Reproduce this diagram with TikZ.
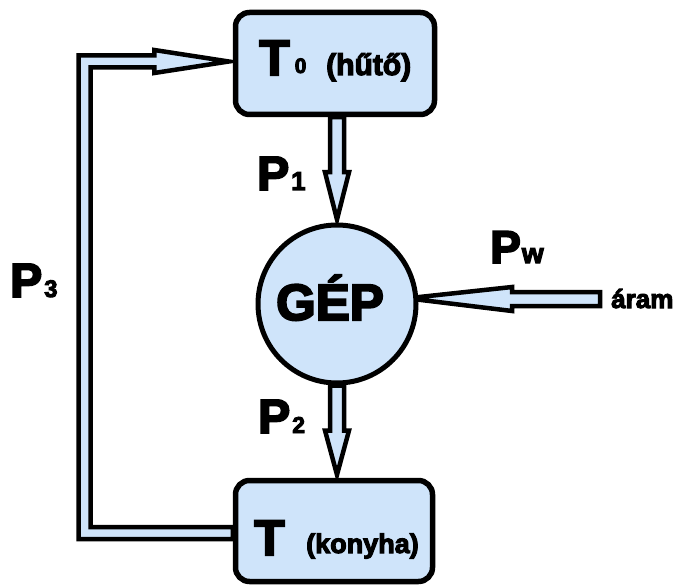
\documentclass[tikz,border=0pt]{standalone}
\usepackage{fontspec}
\setmainfont{Liberation Sans}[BoldFeatures={FakeBold=4}]
\usetikzlibrary{positioning, calc, backgrounds}
\definecolor{boxblue}{HTML}{CFE4FA}

\begin{document}
\begin{tikzpicture}[
    x=1pt, y=-1pt,
    every node/.style={inner sep=0pt},
    unit/.style={draw, line width=5.5pt, rounded corners=14pt, fill=boxblue,
                 minimum width=#1, minimum height=102pt},
    machine/.style={draw, circle, line width=5pt, fill=boxblue, minimum size=158pt},
    flow/.style={draw, line width=4.5pt, fill=boxblue, line join=miter},
    big/.style={anchor=base west, font=\bfseries\fontsize{#1}{#1}\selectfont},
  ]
  \useasboundingbox (0,0) rectangle (680,588);

  \node[unit=199pt] (cold) at (335,63.5) {};
  \node[unit=197pt, minimum height=101pt] (kitchen) at (334,531) {};
  \node[machine] (gep) at (337,304) {};

  % texts
  \node[big=50] (coldT) at (259,75) {T\hspace{5pt}\raisebox{2pt}{\fontsize{21}{21}\selectfont 0}};
  \node[big=30] (coldname) at (326,75) {(hűtő)};
  \node[big=50] (kitchenT) at (254,555) {T};
  \node[big=27] (kitchenname) at (306,553) {(konyha)};
  \node[big=51, anchor=base] (gepname) at (330,320) {GÉP};
  \node[big=48] (p1) at (257,190) {P\hspace{2pt}{\fontsize{26}{26}\selectfont 1}};
  \node[big=48] (p2) at (258,433) {P\hspace{2pt}{\fontsize{23}{23}\selectfont 2}};
  \node[big=48] (p3) at (10,297) {P\hspace{2pt}{\fontsize{24}{24}\selectfont 3}};
  \node[big=46] (pw) at (490,263) {P\hspace{1pt}{\fontsize{28}{28}\selectfont w}};
  \node[big=26] (aram) at (611,308) {áram};

  % flows
  \begin{scope}[on background layer]
    \coordinate (s1) at (gep.north |- cold.south);
    \draw[flow] ($(s1)+(-7,0)$) -- ($(s1)+(-7,55)$) -- ($(s1)+(-12,55)$)
      -- ($(gep.north)+(0,-3)$) -- ($(s1)+(12,55)$) -- ($(s1)+(7,55)$)
      -- ($(s1)+(7,0)$) -- cycle;

    \coordinate (s2) at (gep.south);
    \draw[flow] ($(s2)+(-7,0)$) -- ($(s2)+(-7,45)$) -- ($(s2)+(-12,45)$)
      -- ($(gep.south |- kitchen.north)+(0,-3)$) -- ($(s2)+(12,45)$) -- ($(s2)+(7,45)$)
      -- ($(s2)+(7,0)$) -- cycle;

    \coordinate (src) at (600,299);
    \draw[flow] ($(src)+(0,-7)$) -- ($(src)+(-88,-7)$) -- ($(src)+(-88,-12)$)
      -- ($(gep.4)+(-11,0)$) -- ($(src)+(-88,12)$) -- ($(src)+(-88,7)$)
      -- ($(src)+(0,7)$) -- cycle;

    \coordinate (ret) at ($(kitchen.west)+(0,2)$);
    \coordinate (ent) at ($(cold.west)+(0,-2)$);
    \coordinate (bend) at (84.5,0);
    \draw[flow] ($(ret)+(0,6)$) -- ($(bend |- ret)+(-6,6)$) -- ($(bend |- ent)+(-6,-6)$)
      -- ($(ent)+(-78.5,-6)$) -- ($(ent)+(-78.5,-11.5)$) -- ($(ent)+(-4,0)$)
      -- ($(ent)+(-78.5,11.5)$) -- ($(ent)+(-78.5,6)$) -- ($(bend |- ent)+(6,6)$)
      -- ($(bend |- ret)+(6,-6)$) -- ($(ret)+(0,-6)$) -- cycle;
  \end{scope}
\end{tikzpicture}
\end{document}
